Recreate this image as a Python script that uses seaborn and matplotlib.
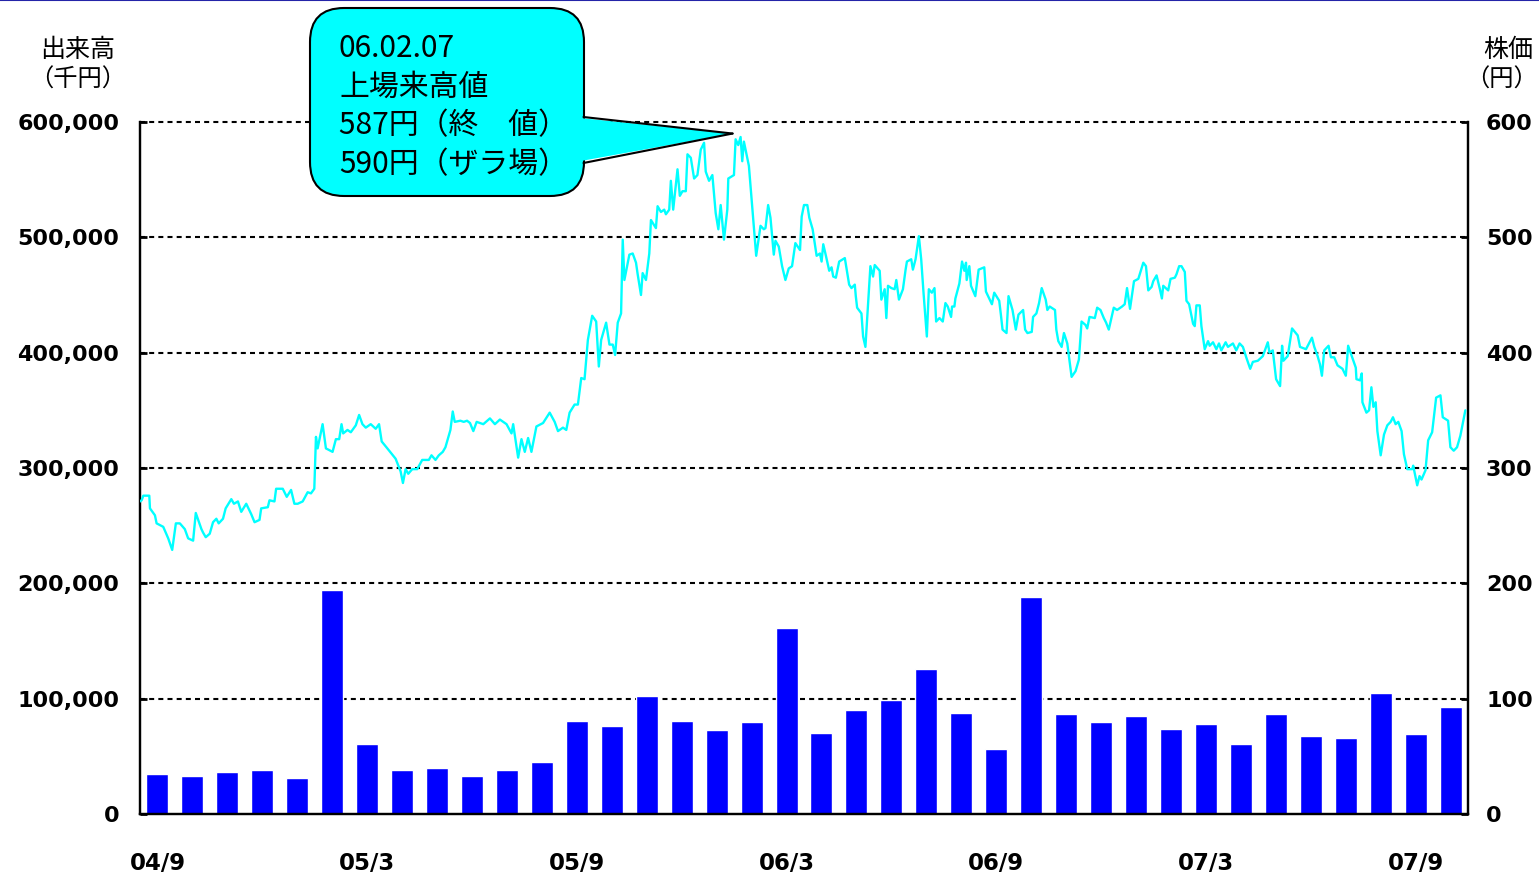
import matplotlib
matplotlib.use("Agg")
import matplotlib.pyplot as plt
import seaborn as sns
import numpy as np
import pandas as pd
from matplotlib.patches import FancyBboxPatch, Polygon
from matplotlib.lines import Line2D
from matplotlib.transforms import IdentityTransform
from matplotlib.ticker import FuncFormatter

# ---- monthly trading value (千円) ----
months = ["04/9", "04/10", "04/11", "04/12", "05/1", "05/2", "05/3", "05/4", "05/5",
          "05/6", "05/7", "05/8", "05/9", "05/10", "05/11", "05/12", "06/1", "06/2",
          "06/3", "06/4", "06/5", "06/6", "06/7", "06/8", "06/9", "06/10", "06/11",
          "06/12", "07/1", "07/2", "07/3", "07/4", "07/5", "07/6", "07/7", "07/8",
          "07/9", "07/10"]
volume = [35000, 33000, 36000, 38000, 31000, 194000, 61000, 38000, 40000,
          33000, 38000, 45000, 81000, 76000, 102000, 81000, 73000, 80000,
          161000, 70000, 90000, 99000, 126000, 88000, 56000, 188000, 87000,
          80000, 85000, 74000, 78000, 61000, 87000, 68000, 66000, 105000,
          69000, 93000]
tick_months = ["04/9", "05/3", "05/9", "06/3", "06/9", "07/3", "07/9"]

# ---- daily closing price (円), position in trading sessions from 2004/9 ----
SESSIONS = 800
price_t = [
    0, 1, 2, 5.6, 6, 9, 10, 14, 17, 19.4, 21.6, 24, 27, 29, 32, 33.6, 37, 38, 39.6, 42,
    44, 46, 47.4, 50, 51.6, 55, 56.6, 59, 61, 64, 67, 69, 72, 73, 77, 78, 81, 82, 86, 88.4,
    91, 93, 95, 98, 101, 103, 105, 106, 107, 110, 112, 116, 118, 120, 121.4, 122.4, 125,
    127, 130, 132, 134, 136, 139, 142, 144, 145.6, 149, 154, 157, 158.4, 160, 161.6, 164,
    167, 170, 174, 175.6, 178, 180, 182.4, 184, 187, 188.4, 189.6, 193, 195, 197,
    198.8, 200.8, 202.8, 206.8, 210.8, 213.8, 216.8, 220.8, 223.8, 224.8, 227.8, 229.8,
    231.8, 233.8, 235.8, 238.8, 242.8, 246.8, 249.8, 251.8, 254.8, 256.8, 258.8, 261.8,
    263.8, 265.8, 267.8, 269.8, 272.4, 274.8, 276.4, 277.8, 280.8, 282.8, 284.8, 286.2,
    287.8, 289.8, 290.8, 291.8, 294.8, 296.8, 298.8, 299.8, 301.8, 302.8, 304.8, 306.8,
    307.8, 310.8, 311.8, 313.8, 315.8, 316.8, 318.8, 319.8, 321.2, 323.8, 325.2, 326.8,
    328.8, 329.8, 331.8, 333.8, 335.8, 337.8, 339.8, 340.8, 342.8, 344.8, 346.8, 348.4,
    349.8, 351.8, 353.8, 354.4, 357.8, 358.8, 360.4, 361.8, 362.8, 363.8, 366.8, 367.8,
    369.8, 371.2, 373.8, 375.8, 376.8, 378.4, 379.8, 381.8, 382.8, 384.8, 386.8, 388.8,
    390.8, 392.8, 394.8,
    397.6, 398.6, 400, 402, 403.2, 405.2, 407.6, 409.6, 410.6, 411.6, 413.2, 415.2, 416.6,
    417.6, 419.2, 421.2, 424.6, 427.2, 428.6, 430.6, 431.2, 432, 434.6, 435.6, 437, 440,
    441.6, 442.6, 445.6, 446.6, 448.6, 449.6, 450.6, 452.6, 454.6, 455.6, 457.2, 459.6,
    461.2, 462, 464.6, 465.6, 467.2, 469.2, 470.6, 472, 474, 475.2, 477, 478.6, 479.6,
    481.6, 483.6, 485.2, 486.6, 488.6, 489.2, 490.6, 491.2, 493.6, 495.2, 496.6, 497.6,
    498, 499.6, 500.6, 503.2, 505.2, 508.6, 509.6, 511.6, 513.2, 514.6, 517.6, 518.6,
    519.6, 522, 523.2, 525.6, 527.6, 529.2, 532, 533.2, 534.6, 537.2, 538, 540, 541.6,
    543.2, 545.6, 546.6, 548, 551.2, 552, 553.2, 555.2, 556.6, 558.6, 559.6, 561.2, 563.6,
    565.6, 567.2, 569.6, 570.6, 572, 575.2, 576.6, 578.6, 580.6, 582, 583.6, 586.6, 588.6,
    591.6, 593.2, 594.6,
    596.4, 598.8, 601.4, 604.4, 606, 607.4, 609.4, 610.4, 612.4, 614.4, 615.6, 616.4, 619.4,
    620.8, 623.4, 624.4, 626, 627.4, 629.4, 630.4, 632, 634.4, 635.4, 636.4, 638.4, 639.4,
    641.4, 643.4, 644.4, 646.4, 648.4, 650, 651.4, 654, 655.4, 658.4, 660.4, 662.4, 664.4,
    666.4, 668.8, 670.4, 673.4, 676.4, 679.4, 680.4, 682.4, 684.4, 686.8, 688, 688.8, 691.4,
    694, 697.4, 698.8, 702.4, 706, 707.4, 709.4, 710.8, 712, 713.4, 716, 717.4, 719.4,
    721.4, 724.4, 726.4, 727.8, 730, 732.4, 732.8, 735, 736, 736.4, 738.8, 740.4, 741.8,
    743, 744.4, 745.4, 747.4, 749.4, 751.4, 753.4, 754.8, 756.4, 758, 760, 761.4, 763.4,
    766.4, 767, 769.4, 770.8, 772, 774.4, 776, 778.4, 780.8, 783.4, 784.8, 788, 789.4,
    791.4, 793.4, 795.4, 798.4]
price_close = [
    271, 272, 276, 276, 265, 259, 252, 249, 239, 229, 252, 252, 247, 239, 237, 261, 247, 244,
    240, 243, 253, 256, 252, 256, 265, 273, 269, 271, 262, 269, 260, 253, 255, 265, 266, 272,
    271, 282, 282, 275, 281, 269, 269, 271, 279, 278, 282, 327, 317, 338, 317, 314, 325, 325,
    338, 330, 333, 331, 337, 346, 338, 335, 338, 334, 338, 323, 317, 308, 297, 287, 299, 295,
    299, 299, 307, 307, 311, 307, 311, 314, 318, 333, 349, 340, 341, 340, 341,
    339, 332, 340, 338, 343, 338, 342, 338, 330, 338, 309, 325, 314, 326, 314, 336, 339, 348,
    340, 332, 335, 333, 348, 355, 355, 378, 377, 411, 432, 427, 388, 411, 426, 407, 407, 398,
    426, 434, 498, 463, 485, 486, 478, 468, 450, 469, 463, 486, 515, 508, 527, 522, 524, 520,
    524, 549, 524, 559, 536, 540, 540, 572, 569, 551, 554, 576, 582, 557, 549, 554, 521, 507,
    528, 498, 524, 551, 554, 585, 580, 587, 566, 583, 562, 544, 507, 484, 510, 507, 508, 528,
    517, 485, 497, 492, 475, 463, 473, 475, 495,
    489, 518, 528, 528, 517, 507, 484, 486, 479, 494, 484, 471, 474, 466, 465, 479, 482, 459,
    456, 459, 449, 439, 434, 414, 405, 475, 466, 476, 471, 446, 455, 430, 458, 456, 455, 463,
    446, 455, 472, 479, 481, 472, 481, 501, 481, 452, 414, 455, 452, 456, 427, 430, 427, 443,
    440, 431, 440, 440, 447, 460, 479, 471, 478, 463, 475, 458, 449, 472, 474, 453, 447, 442,
    452, 445, 433, 420, 417, 449, 437, 420, 433, 437, 420, 417, 418, 431, 434, 443, 456, 446,
    437, 440, 437, 420, 410, 405, 417, 408, 397, 379, 384, 394, 427, 424, 421, 431, 430, 439,
    437, 430, 426, 420, 439, 437, 440, 442, 456,
    438, 462, 464, 478, 475, 454, 457, 462, 467, 455, 447, 458, 454, 464, 465, 468, 475, 475,
    470, 445, 442, 425, 423, 441, 441, 423, 403, 410, 406, 409, 403, 408, 402, 409, 405, 408,
    402, 408, 405, 396, 386, 392, 393, 397, 409, 400, 402, 377, 371, 406, 393, 397, 421, 415,
    405, 403, 413, 405, 397, 390, 380, 402, 406, 396, 396, 389, 386, 380, 406, 397, 387, 377,
    376, 382, 357, 348, 350, 370, 353, 357, 332, 311, 329, 337, 340, 344, 338, 340, 332, 312,
    299, 299, 302, 285, 293, 290, 298, 324, 331, 361, 363, 344, 341, 318, 315, 318, 328, 350]

peak_date = "06.02.07"
peak_intraday = 590

CYAN = "#00FFFF"
BLUE = "#0000FF"
CJK = ["Noto Sans CJK JP", "DejaVu Sans"]

sns.set_theme(style="white")
plt.rcParams["font.family"] = ["DejaVu Sans"]
plt.rcParams["text.color"] = "black"
plt.rcParams["xtick.color"] = "black"
plt.rcParams["ytick.color"] = "black"
plt.rcParams["axes.labelcolor"] = "black"

W, H = 1539, 876
fig = plt.figure(figsize=(W / 100, H / 100), dpi=100)
fig.patch.set_facecolor("white")
ax = fig.add_axes([140 / W, 62 / H, 1328 / W, 692 / H])

vol_df = pd.DataFrame({"month": months, "volume": volume})
sns.barplot(data=vol_df, x="month", y="volume", ax=ax, color=BLUE,
            saturation=1, width=0.63, zorder=2)
ax.set_xlim(-0.5, len(months) - 0.5)
ax.set_ylim(0, 600000)
vol_ticks = list(range(0, 600001, 100000))
ax.set_yticks(vol_ticks)
ax.yaxis.set_major_formatter(FuncFormatter(lambda v, p: f"{int(v):,}"))
for yv in vol_ticks[1:]:
    ax.axhline(yv, color="black", linestyle=(0, (2.4, 2.0)), linewidth=1.5,
               zorder=1, clip_on=False)
ax.set_xticks([months.index(m) for m in tick_months])
ax.set_xticklabels(tick_months)
ax.set_xlabel("")
ax.set_ylabel("")
ax.tick_params(axis="x", length=0, pad=27, labelcolor="black")
ax.tick_params(axis="y", direction="in", length=5, width=2, pad=15,
               color="black", labelcolor="black")
for lab in ax.get_xticklabels():
    lab.set_fontsize(16.5)
    lab.set_fontweight("bold")
for lab in ax.get_yticklabels():
    lab.set_fontsize(16)
    lab.set_fontweight("bold")

# ---- price line on the right axis ----
ax2 = ax.twinx()
xs = -0.5 + np.asarray(price_t) * len(months) / SESSIONS
sns.lineplot(x=xs, y=price_close, ax=ax2, color=CYAN, linewidth=1.7,
             sort=False, estimator=None, zorder=3)
ax2.set_ylim(0, 600)
ax2.set_yticks(range(0, 601, 100))
ax2.set_ylabel("")
ax2.tick_params(axis="y", direction="in", length=5, width=2, pad=13,
                color="black", labelcolor="black")
for lab in ax2.get_yticklabels():
    lab.set_fontsize(16)
    lab.set_fontweight("bold")

for a in (ax, ax2):
    a.spines["top"].set_visible(False)
    for s in ("left", "right", "bottom"):
        a.spines[s].set_color("black")
        a.spines[s].set_linewidth(1.6)

# ---- axis titles ----
fig.text(78 / W, 1 - 50 / H, "出来高", ha="center", va="center", fontsize=18, family=CJK)
fig.text(78 / W, 1 - 80 / H, "（千円）", ha="center", va="center", fontsize=17.5, family=CJK)
fig.text(1508 / W, 1 - 50 / H, "株価", ha="center", va="center", fontsize=18, family=CJK)
fig.text(1501 / W, 1 - 80 / H, "（円）", ha="center", va="center", fontsize=17.5, family=CJK)

# ---- callout for the all-time high ----
fig.canvas.draw()
i_peak = int(np.argmax(price_close))
tip = ax2.transData.transform((xs[i_peak], peak_intraday))
tip = (tip[0] - 8, tip[1])
pix = IdentityTransform()
box = FancyBboxPatch((310, H - 196), 274, 188,
                     boxstyle="round,pad=0,rounding_size=34",
                     facecolor=CYAN, edgecolor="black", linewidth=1.5,
                     transform=pix, zorder=10)
fig.patches.append(box)
tail = Polygon([(570, H - 117), (570, H - 163), tip], closed=True,
               facecolor=CYAN, edgecolor="none", transform=pix, zorder=11)
fig.patches.append(tail)
for base_y in (H - 117, H - 163):
    fig.add_artist(Line2D([583.5, tip[0]], [base_y, tip[1]], color="black",
                          linewidth=1.5, transform=pix, zorder=12))

callout = (f"{peak_date}\n上場来高値\n"
           f"{price_close[i_peak]}円（終　値）\n{peak_intraday}円（ザラ場）")
fig.text(339, H - 33, callout, transform=pix, ha="left", va="top",
         fontsize=21.5, family=CJK, linespacing=1.32, zorder=13)

# thin rule along the top edge
fig.add_artist(Line2D([0, 1], [0.9995, 0.9995], transform=fig.transFigure,
                      color="#2424a8", linewidth=1.5, zorder=20))

fig.savefig("out.png", dpi=100)
